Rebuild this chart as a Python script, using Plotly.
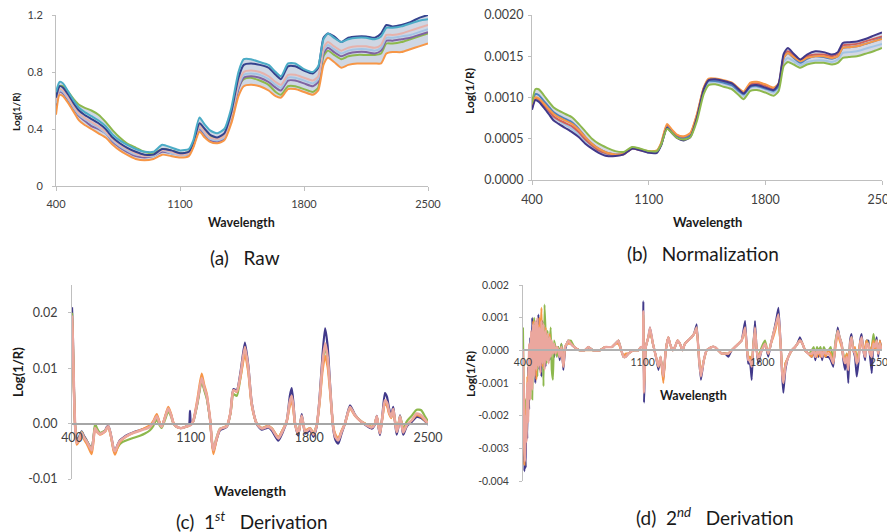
import plotly.graph_objects as go

# ---------------- data: panels (a) and (b) share one wavelength grid ----------------
WAVE_AB = [400, 420, 440, 470, 500, 530, 560, 600, 640,
           680, 720, 760, 800, 850, 900, 950, 1000, 1050,
           1100, 1150, 1175, 1210, 1240, 1270, 1310, 1350, 1390,
           1430, 1460, 1500, 1550, 1600, 1640, 1670, 1710, 1750,
           1800, 1850, 1880, 1910, 1935, 1970, 2010, 2050, 2100,
           2150, 2200, 2235, 2265, 2300, 2350, 2400, 2450, 2500]

RAW_TEAL = [0.66, 0.73, 0.72, 0.66, 0.60, 0.55, 0.52, 0.49, 0.46,
            0.42, 0.36, 0.32, 0.29, 0.26, 0.24, 0.24, 0.29, 0.27,
            0.25, 0.26, 0.32, 0.48, 0.43, 0.39, 0.37, 0.40, 0.55,
            0.80, 0.89, 0.89, 0.87, 0.85, 0.80, 0.77, 0.86, 0.86,
            0.82, 0.80, 0.84, 1.03, 1.07, 1.04, 1.01, 1.03, 1.04,
            1.04, 1.03, 1.05, 1.11, 1.11, 1.12, 1.14, 1.16, 1.17]
RAW_NAVY = [0.62, 0.70, 0.69, 0.64, 0.58, 0.53, 0.50, 0.47, 0.44,
            0.40, 0.34, 0.30, 0.27, 0.24, 0.22, 0.22, 0.26, 0.25,
            0.23, 0.24, 0.30, 0.44, 0.40, 0.36, 0.34, 0.37, 0.52,
            0.76, 0.85, 0.86, 0.85, 0.83, 0.78, 0.75, 0.84, 0.84,
            0.81, 0.79, 0.83, 1.04, 1.07, 1.05, 1.01, 1.04, 1.05,
            1.05, 1.04, 1.07, 1.13, 1.12, 1.13, 1.15, 1.18, 1.20]
RAW_GREEN = [0.60, 0.70, 0.70, 0.66, 0.61, 0.57, 0.55, 0.53, 0.50,
             0.45, 0.39, 0.34, 0.30, 0.27, 0.24, 0.23, 0.26, 0.25,
             0.23, 0.24, 0.29, 0.42, 0.38, 0.35, 0.33, 0.35, 0.48,
             0.69, 0.75, 0.76, 0.74, 0.71, 0.66, 0.64, 0.70, 0.70,
             0.68, 0.66, 0.69, 0.91, 0.95, 0.92, 0.89, 0.91, 0.92,
             0.92, 0.92, 0.93, 1.00, 1.00, 1.01, 1.03, 1.05, 1.07]
RAW_PURPLE = [0.56, 0.66, 0.65, 0.60, 0.54, 0.49, 0.46, 0.42, 0.40,
              0.37, 0.31, 0.27, 0.24, 0.21, 0.20, 0.21, 0.24, 0.23,
              0.22, 0.22, 0.28, 0.40, 0.36, 0.32, 0.31, 0.33, 0.47,
              0.68, 0.76, 0.77, 0.76, 0.73, 0.69, 0.67, 0.74, 0.74,
              0.72, 0.70, 0.73, 0.93, 0.97, 0.94, 0.91, 0.93, 0.94,
              0.94, 0.93, 0.95, 1.02, 1.02, 1.03, 1.04, 1.06, 1.08]
RAW_PINK = [0.60, 0.68, 0.67, 0.62, 0.56, 0.51, 0.48, 0.45, 0.42,
            0.38, 0.33, 0.29, 0.26, 0.23, 0.21, 0.22, 0.25, 0.24,
            0.22, 0.23, 0.29, 0.42, 0.38, 0.34, 0.33, 0.35, 0.50,
            0.72, 0.80, 0.81, 0.80, 0.77, 0.73, 0.71, 0.78, 0.78,
            0.76, 0.74, 0.77, 0.97, 1.01, 0.98, 0.95, 0.97, 0.98,
            0.98, 0.97, 0.99, 1.06, 1.06, 1.07, 1.09, 1.11, 1.13]
RAW_LBLUE = [0.58, 0.67, 0.66, 0.61, 0.55, 0.50, 0.47, 0.44, 0.41,
             0.37, 0.32, 0.28, 0.25, 0.22, 0.21, 0.21, 0.25, 0.23,
             0.22, 0.22, 0.28, 0.41, 0.37, 0.33, 0.32, 0.34, 0.49,
             0.70, 0.78, 0.79, 0.78, 0.75, 0.71, 0.69, 0.76, 0.76,
             0.74, 0.72, 0.75, 0.95, 0.99, 0.96, 0.93, 0.95, 0.96,
             0.96, 0.95, 0.97, 1.04, 1.04, 1.05, 1.06, 1.08, 1.10]
RAW_ORANGE = [0.50, 0.64, 0.63, 0.58, 0.52, 0.46, 0.43, 0.40, 0.37,
              0.34, 0.29, 0.25, 0.22, 0.19, 0.18, 0.19, 0.22, 0.21,
              0.20, 0.21, 0.27, 0.38, 0.34, 0.31, 0.30, 0.32, 0.44,
              0.63, 0.70, 0.71, 0.70, 0.67, 0.63, 0.62, 0.68, 0.68,
              0.66, 0.64, 0.67, 0.85, 0.90, 0.87, 0.83, 0.85, 0.86,
              0.86, 0.86, 0.86, 0.93, 0.94, 0.94, 0.96, 0.98, 1.00]

NORM_GREEN = [0.00093, 0.00110, 0.00110, 0.00103, 0.00095, 0.00088, 0.00084, 0.00080, 0.00076,
              0.00068, 0.00059, 0.00050, 0.00044, 0.00039, 0.00035, 0.00034, 0.00040, 0.00038,
              0.00035, 0.00035, 0.00043, 0.00062, 0.00057, 0.00051, 0.00049, 0.00052, 0.00072,
              0.00104, 0.00115, 0.00116, 0.00113, 0.00110, 0.00103, 0.00098, 0.00108, 0.00109,
              0.00106, 0.00102, 0.00108, 0.00138, 0.00143, 0.00140, 0.00136, 0.00140, 0.00142,
              0.00142, 0.00140, 0.00142, 0.00148, 0.00149, 0.00150, 0.00153, 0.00156, 0.00160]
NORM_PURPLE = [0.00085, 0.00097, 0.00095, 0.00088, 0.00080, 0.00072, 0.00068, 0.00063, 0.00058,
               0.00052, 0.00044, 0.00038, 0.00033, 0.00029, 0.00029, 0.00031, 0.00038, 0.00036,
               0.00033, 0.00033, 0.00042, 0.00063, 0.00057, 0.00051, 0.00048, 0.00052, 0.00076,
               0.00110, 0.00121, 0.00122, 0.00120, 0.00117, 0.00110, 0.00105, 0.00114, 0.00115,
               0.00112, 0.00109, 0.00117, 0.00153, 0.00160, 0.00153, 0.00146, 0.00152, 0.00156,
               0.00155, 0.00152, 0.00155, 0.00166, 0.00167, 0.00168, 0.00171, 0.00175, 0.00179]
NORM_LBLUE = [0.00088, 0.00098, 0.00097, 0.00090, 0.00083, 0.00076, 0.00072, 0.00067, 0.00062,
              0.00055, 0.00047, 0.00040, 0.00035, 0.00031, 0.00030, 0.00031, 0.00038, 0.00036,
              0.00034, 0.00034, 0.00043, 0.00065, 0.00059, 0.00053, 0.00051, 0.00055, 0.00077,
              0.00108, 0.00118, 0.00119, 0.00117, 0.00114, 0.00107, 0.00102, 0.00112, 0.00113,
              0.00110, 0.00106, 0.00112, 0.00143, 0.00148, 0.00144, 0.00139, 0.00143, 0.00145,
              0.00145, 0.00143, 0.00146, 0.00154, 0.00155, 0.00156, 0.00159, 0.00162, 0.00165]
NORM_RED = [0.00087, 0.00099, 0.00098, 0.00091, 0.00084, 0.00077, 0.00073, 0.00069, 0.00065,
            0.00058, 0.00049, 0.00042, 0.00036, 0.00032, 0.00030, 0.00031, 0.00038, 0.00036,
            0.00034, 0.00035, 0.00044, 0.00066, 0.00060, 0.00054, 0.00052, 0.00056, 0.00079,
            0.00111, 0.00122, 0.00122, 0.00120, 0.00117, 0.00110, 0.00105, 0.00116, 0.00117,
            0.00114, 0.00110, 0.00116, 0.00150, 0.00156, 0.00151, 0.00145, 0.00150, 0.00152,
            0.00152, 0.00150, 0.00153, 0.00163, 0.00164, 0.00165, 0.00168, 0.00171, 0.00174]
NORM_BLUE = [0.00092, 0.00104, 0.00103, 0.00096, 0.00089, 0.00082, 0.00078, 0.00074, 0.00070,
             0.00062, 0.00052, 0.00044, 0.00038, 0.00033, 0.00031, 0.00032, 0.00039, 0.00037,
             0.00034, 0.00034, 0.00043, 0.00064, 0.00058, 0.00052, 0.00050, 0.00054, 0.00077,
             0.00110, 0.00120, 0.00120, 0.00118, 0.00115, 0.00108, 0.00104, 0.00113, 0.00114,
             0.00111, 0.00108, 0.00114, 0.00148, 0.00154, 0.00148, 0.00142, 0.00147, 0.00150,
             0.00149, 0.00147, 0.00150, 0.00160, 0.00161, 0.00162, 0.00165, 0.00168, 0.00172]
NORM_ORANGE = [0.00090, 0.00100, 0.00099, 0.00093, 0.00086, 0.00080, 0.00076, 0.00072, 0.00068,
               0.00061, 0.00052, 0.00044, 0.00038, 0.00033, 0.00031, 0.00032, 0.00039, 0.00037,
               0.00035, 0.00036, 0.00045, 0.00068, 0.00061, 0.00055, 0.00053, 0.00057, 0.00080,
               0.00112, 0.00123, 0.00123, 0.00121, 0.00118, 0.00111, 0.00107, 0.00118, 0.00119,
               0.00116, 0.00112, 0.00117, 0.00148, 0.00154, 0.00149, 0.00144, 0.00148, 0.00150,
               0.00150, 0.00148, 0.00150, 0.00160, 0.00161, 0.00162, 0.00165, 0.00168, 0.00171]

# ---------------- data: panel (c) first derivative ----------------
WAVE_C = [400, 405, 410, 418, 428, 440, 457, 470, 486, 500,
          516, 526, 536, 550, 565, 580, 595, 605, 614, 625,
          634, 645, 654, 668, 683, 700, 723, 760, 801, 830,
          860, 880, 900, 915, 929, 950, 968, 985, 998, 1015,
          1037, 1060, 1077, 1090, 1096, 1102, 1116, 1140, 1165, 1180,
          1195, 1205, 1214, 1225, 1234, 1250, 1273, 1313, 1335, 1352,
          1372, 1395, 1420, 1440, 1460, 1490, 1519, 1540, 1558, 1580,
          1617, 1640, 1667, 1685, 1696, 1706, 1716, 1735, 1755, 1775,
          1790, 1804, 1815, 1824, 1843, 1860, 1878, 1893, 1908, 1922,
          1941, 1955, 1971, 1990, 2010, 2040, 2069, 2100, 2128, 2168,
          2185, 2198, 2208, 2217, 2230, 2246, 2258, 2270, 2283, 2295,
          2305, 2315, 2325, 2335, 2345, 2354, 2375, 2404, 2433, 2460,
          2480, 2500]

D1_NAVY = [0.0210, 0.0160, 0.0085, 0.0000, -0.0030, -0.0025, -0.0014, -0.0022, -0.0030, -0.0038,
           -0.0045, -0.0028, -0.0006, -0.0013, -0.0018, -0.0016, -0.0013, -0.0006, -0.0004, -0.0014,
           -0.0027, -0.0044, -0.0049, -0.0039, -0.0030, -0.0026, -0.0021, -0.0016, -0.0012, -0.0009,
           -0.0005, 0.0003, 0.0014, 0.0003, -0.0005, 0.0012, 0.0027, 0.0015, 0.0001, -0.0005,
           -0.0008, -0.0007, -0.0005, -0.0003, 0.0023, -0.0002, 0.0005, 0.0038, 0.0080, 0.0063,
           0.0048, 0.0028, 0.0008, -0.0032, -0.0050, -0.0032, -0.0012, -0.0006, 0.0020, 0.0062,
           0.0060, 0.0095, 0.0146, 0.0105, 0.0038, -0.0001, -0.0011, -0.0009, -0.0007, -0.0013,
           -0.0031, -0.0018, 0.0005, 0.0050, 0.0064, 0.0038, 0.0000, -0.0022, 0.0017, -0.0018,
           -0.0015, -0.0012, -0.0018, -0.0024, -0.0006, 0.0045, 0.0125, 0.0172, 0.0140, 0.0072,
           -0.0010, -0.0030, -0.0036, -0.0018, 0.0000, 0.0033, 0.0016, 0.0005, -0.0002, -0.0009,
           -0.0003, 0.0014, -0.0007, -0.0021, 0.0012, 0.0055, 0.0048, 0.0028, 0.0015, 0.0030,
           0.0004, -0.0020, -0.0007, 0.0015, -0.0003, -0.0020, -0.0005, 0.0003, 0.0012, 0.0010,
           0.0005, -0.0002]
D1_GREEN = [0.0200, 0.0152, 0.0080, 0.0000, -0.0032, -0.0028, -0.0015, -0.0024, -0.0031, -0.0039,
            -0.0046, -0.0027, -0.0001, -0.0010, -0.0017, -0.0015, -0.0013, -0.0008, -0.0006, -0.0016,
            -0.0030, -0.0046, -0.0052, -0.0044, -0.0037, -0.0033, -0.0030, -0.0026, -0.0022, -0.0018,
            -0.0012, -0.0004, 0.0008, -0.0002, -0.0008, 0.0008, 0.0022, 0.0012, 0.0000, -0.0006,
            -0.0008, -0.0007, -0.0005, -0.0004, -0.0003, -0.0002, 0.0004, 0.0036, 0.0076, 0.0060,
            0.0045, 0.0027, 0.0008, -0.0030, -0.0046, -0.0028, -0.0009, -0.0005, 0.0018, 0.0053,
            0.0050, 0.0085, 0.0133, 0.0097, 0.0035, 0.0000, -0.0008, -0.0006, -0.0004, -0.0009,
            -0.0025, -0.0013, 0.0005, 0.0038, 0.0047, 0.0028, 0.0000, -0.0016, 0.0012, -0.0013,
            -0.0011, -0.0008, -0.0013, -0.0018, -0.0003, 0.0038, 0.0105, 0.0138, 0.0115, 0.0063,
            -0.0006, -0.0023, -0.0028, -0.0014, 0.0000, 0.0029, 0.0015, 0.0006, 0.0000, -0.0006,
            -0.0001, 0.0012, -0.0004, -0.0016, 0.0009, 0.0038, 0.0035, 0.0020, 0.0011, 0.0024,
            0.0006, -0.0012, -0.0002, 0.0013, 0.0002, -0.0010, 0.0004, 0.0014, 0.0025, 0.0024,
            0.0014, 0.0004]
D1_ORANGE = [0.0190, 0.0145, 0.0075, -0.0005, -0.0038, -0.0033, -0.0018, -0.0028, -0.0036, -0.0045,
             -0.0055, -0.0035, -0.0010, -0.0016, -0.0020, -0.0018, -0.0015, -0.0009, -0.0006, -0.0017,
             -0.0030, -0.0049, -0.0056, -0.0044, -0.0033, -0.0028, -0.0023, -0.0017, -0.0012, -0.0008,
             -0.0003, 0.0005, 0.0017, 0.0004, -0.0005, 0.0014, 0.0030, 0.0017, 0.0002, -0.0005,
             -0.0008, -0.0007, -0.0005, -0.0004, -0.0003, -0.0002, 0.0006, 0.0045, 0.0090, 0.0070,
             0.0054, 0.0032, 0.0010, -0.0033, -0.0055, -0.0033, -0.0010, -0.0004, 0.0020, 0.0060,
             0.0057, 0.0085, 0.0125, 0.0092, 0.0033, 0.0000, -0.0008, -0.0006, -0.0004, -0.0009,
             -0.0024, -0.0013, 0.0004, 0.0032, 0.0040, 0.0024, -0.0002, -0.0018, 0.0010, -0.0013,
             -0.0010, -0.0008, -0.0013, -0.0018, -0.0004, 0.0035, 0.0095, 0.0122, 0.0102, 0.0058,
             -0.0005, -0.0020, -0.0026, -0.0013, 0.0000, 0.0027, 0.0014, 0.0005, 0.0000, -0.0006,
             -0.0001, 0.0012, -0.0004, -0.0015, 0.0008, 0.0035, 0.0032, 0.0018, 0.0010, 0.0022,
             0.0005, -0.0012, -0.0003, 0.0011, -0.0001, -0.0013, -0.0002, 0.0006, 0.0015, 0.0012,
             0.0006, 0.0000]
D1_PINK = [0.0195, 0.0150, 0.0080, 0.0000, -0.0035, -0.0030, -0.0016, -0.0025, -0.0032, -0.0040,
           -0.0048, -0.0030, -0.0008, -0.0015, -0.0019, -0.0017, -0.0014, -0.0008, -0.0005, -0.0015,
           -0.0028, -0.0045, -0.0050, -0.0040, -0.0031, -0.0027, -0.0022, -0.0017, -0.0013, -0.0010,
           -0.0006, 0.0002, 0.0013, 0.0002, -0.0006, 0.0012, 0.0027, 0.0015, 0.0001, -0.0005,
           -0.0008, -0.0007, -0.0005, -0.0004, -0.0003, -0.0002, 0.0005, 0.0040, 0.0082, 0.0065,
           0.0050, 0.0030, 0.0010, -0.0030, -0.0048, -0.0030, -0.0010, -0.0005, 0.0020, 0.0060,
           0.0058, 0.0090, 0.0138, 0.0100, 0.0036, 0.0000, -0.0009, -0.0007, -0.0005, -0.0010,
           -0.0027, -0.0015, 0.0005, 0.0040, 0.0050, 0.0030, 0.0000, -0.0018, 0.0014, -0.0015,
           -0.0012, -0.0009, -0.0015, -0.0020, -0.0004, 0.0040, 0.0110, 0.0145, 0.0120, 0.0066,
           -0.0007, -0.0025, -0.0030, -0.0015, 0.0000, 0.0030, 0.0015, 0.0005, -0.0001, -0.0007,
           -0.0002, 0.0013, -0.0005, -0.0018, 0.0010, 0.0042, 0.0038, 0.0022, 0.0012, 0.0026,
           0.0005, -0.0015, -0.0005, 0.0013, -0.0002, -0.0016, -0.0003, 0.0006, 0.0018, 0.0015,
           0.0008, 0.0000]

# ---------------- data: panel (d) second derivative ----------------
WAVE_D = [400, 404, 408, 412, 416, 420, 425, 430, 436, 442,
          448, 454, 460, 466, 472, 478, 484, 490, 496, 502,
          508, 514, 520, 526, 532, 538, 544, 550, 556, 562,
          568, 575, 582, 590, 598, 606, 615, 625, 636, 646,
          656, 665, 680, 700, 730, 760, 782, 810, 851, 880,
          919, 940, 958, 975, 988, 1000, 1017, 1045, 1075, 1090,
          1100, 1104, 1108, 1118, 1133, 1143, 1160, 1178, 1192, 1205,
          1221, 1235, 1250, 1260, 1275, 1289, 1304, 1318, 1333, 1347,
          1365, 1386, 1400, 1416, 1430, 1441, 1458, 1474, 1503, 1523,
          1542, 1562, 1582, 1601, 1620, 1640, 1660, 1679, 1699, 1709,
          1718, 1728, 1738, 1747, 1757, 1767, 1777, 1796, 1816, 1835,
          1850, 1864, 1880, 1894, 1902, 1909, 1916, 1923, 1935, 1952,
          1972, 1991, 2005, 2020, 2035, 2050, 2070, 2089, 2100, 2110,
          2120, 2128, 2140, 2150, 2160, 2170, 2186, 2200, 2215, 2228,
          2241, 2252, 2264, 2274, 2284, 2294, 2303, 2313, 2322, 2332,
          2342, 2352, 2362, 2372, 2381, 2391, 2401, 2410, 2420, 2430,
          2440, 2450, 2459, 2469, 2478, 2488, 2498]

D2_NAVY = [-0.0005, -0.0025, -0.0037, -0.0030, -0.0036, -0.0015, -0.0027, -0.0005, -0.0018, 0.0004,
           -0.0010, 0.0010, -0.0006, 0.0008, -0.0010, 0.0009, -0.0004, 0.0011, -0.0006, 0.0006,
           -0.0008, 0.0009, -0.0003, 0.0007, -0.0005, 0.0005, -0.0002, 0.0004, -0.0003, 0.0003,
           -0.0001, 0.0002, -0.0002, 0.0001, 0.0000, 0.0001, -0.0003, 0.0002, -0.0006, 0.0000,
           0.0002, 0.0003, 0.0002, 0.0001, 0.0000, 0.0000, 0.0001, 0.0000, 0.0000, 0.0001,
           0.0001, 0.0002, 0.0003, 0.0000, -0.0002, -0.0002, -0.0001, 0.0000, 0.0000, 0.0001,
           0.0001, 0.0015, -0.0016, 0.0001, 0.0004, 0.0007, 0.0002, -0.0002, -0.0006, -0.0002,
           -0.0009, 0.0000, 0.0004, 0.0002, 0.0000, 0.0001, 0.0003, 0.0002, 0.0000, 0.0002,
           0.0003, 0.0004, 0.0005, 0.0008, -0.0003, -0.0009, -0.0003, 0.0000, 0.0001, 0.0001,
           0.0000, -0.0001, -0.0001, -0.0002, 0.0000, 0.0001, 0.0002, 0.0003, 0.0009, 0.0001,
           -0.0004, -0.0004, -0.0009, 0.0001, 0.0009, 0.0000, -0.0004, 0.0000, 0.0002, -0.0002,
           0.0002, 0.0005, 0.0009, 0.0013, 0.0007, 0.0000, -0.0008, -0.0013, -0.0006, -0.0002,
           0.0000, 0.0001, 0.0002, 0.0004, 0.0002, 0.0000, -0.0001, -0.0002, 0.0000, -0.0003,
           0.0000, -0.0002, 0.0000, -0.0003, 0.0000, -0.0002, -0.0002, -0.0003, -0.0005, 0.0002,
           0.0007, 0.0004, 0.0002, -0.0003, -0.0006, -0.0002, -0.0010, 0.0003, 0.0005, 0.0000,
           -0.0002, -0.0008, -0.0004, 0.0003, 0.0005, 0.0000, -0.0003, 0.0003, 0.0003, -0.0002,
           -0.0007, 0.0002, 0.0001, 0.0004, -0.0002, 0.0003, 0.0000]
D2_GREEN = [0.0007, -0.0010, -0.0030, -0.0022, -0.0015, -0.0025, -0.0012, -0.0017, -0.0003, -0.0010,
            0.0003, -0.0015, 0.0006, 0.0010, -0.0004, 0.0008, -0.0008, 0.0004, -0.0004, 0.0009,
            -0.0002, 0.0005, -0.0011, 0.0014, 0.0006, -0.0004, 0.0006, -0.0002, 0.0003, 0.0007,
            -0.0006, -0.0009, 0.0003, 0.0001, -0.0002, 0.0001, -0.0001, 0.0002, -0.0004, 0.0001,
            0.0002, 0.0003, 0.0003, 0.0001, 0.0000, 0.0000, 0.0001, 0.0000, 0.0000, 0.0001,
            0.0001, 0.0002, 0.0003, 0.0000, -0.0002, -0.0002, -0.0001, 0.0000, 0.0000, 0.0001,
            0.0001, 0.0011, -0.0012, 0.0001, 0.0004, 0.0006, 0.0002, -0.0002, -0.0005, -0.0002,
            -0.0008, 0.0000, 0.0004, 0.0002, 0.0000, 0.0001, 0.0003, 0.0002, 0.0000, 0.0002,
            0.0003, 0.0004, 0.0005, 0.0007, -0.0003, -0.0007, -0.0003, 0.0000, 0.0001, 0.0001,
            0.0000, -0.0001, -0.0001, -0.0001, 0.0000, 0.0001, 0.0002, 0.0003, 0.0006, 0.0001,
            -0.0002, -0.0002, -0.0004, 0.0002, 0.0006, 0.0000, -0.0002, 0.0001, 0.0003, -0.0001,
            0.0002, 0.0005, 0.0008, 0.0010, 0.0005, 0.0000, -0.0006, -0.0009, -0.0004, -0.0002,
            0.0000, 0.0001, 0.0002, 0.0003, 0.0002, 0.0000, -0.0001, 0.0000, 0.0001, -0.0001,
            0.0001, 0.0000, 0.0001, -0.0001, 0.0001, 0.0000, 0.0000, 0.0001, -0.0003, 0.0003,
            0.0006, 0.0004, 0.0002, -0.0001, -0.0003, -0.0001, -0.0004, 0.0002, 0.0004, 0.0001,
            0.0000, -0.0002, -0.0001, 0.0002, 0.0003, 0.0001, 0.0000, 0.0003, 0.0002, 0.0000,
            0.0001, 0.0005, 0.0002, 0.0003, 0.0000, 0.0002, 0.0001]
D2_ORANGE = [-0.0003, -0.0020, -0.0035, -0.0026, -0.0018, -0.0022, -0.0008, -0.0014, 0.0000, -0.0008,
             0.0005, -0.0006, 0.0009, -0.0006, 0.0004, -0.0009, 0.0008, -0.0003, 0.0010, 0.0003,
             0.0013, -0.0005, 0.0006, -0.0004, 0.0007, -0.0002, 0.0004, -0.0003, 0.0005, -0.0001,
             0.0002, 0.0000, 0.0001, -0.0001, 0.0001, 0.0000, -0.0002, 0.0001, -0.0005, 0.0001,
             0.0002, 0.0002, 0.0002, 0.0001, 0.0000, 0.0000, 0.0000, 0.0000, 0.0000, 0.0001,
             0.0001, 0.0002, 0.0002, 0.0000, -0.0002, -0.0001, -0.0001, 0.0000, 0.0000, 0.0001,
             0.0001, 0.0010, -0.0011, 0.0001, 0.0004, 0.0006, 0.0002, -0.0002, -0.0005, -0.0002,
             -0.0010, 0.0000, 0.0004, 0.0002, 0.0000, 0.0001, 0.0003, 0.0002, 0.0000, 0.0002,
             0.0003, 0.0004, 0.0005, 0.0006, -0.0002, -0.0007, -0.0003, 0.0000, 0.0001, 0.0001,
             0.0000, -0.0001, -0.0001, -0.0001, 0.0000, 0.0001, 0.0002, 0.0003, 0.0006, 0.0001,
             -0.0003, -0.0002, -0.0004, 0.0001, 0.0006, 0.0000, -0.0002, 0.0000, 0.0002, -0.0001,
             0.0002, 0.0004, 0.0007, 0.0010, 0.0005, 0.0000, -0.0006, -0.0009, -0.0004, -0.0002,
             0.0000, 0.0001, 0.0002, 0.0003, 0.0002, 0.0000, -0.0001, -0.0002, 0.0000, -0.0001,
             -0.0002, 0.0000, -0.0002, 0.0000, -0.0001, -0.0002, 0.0000, -0.0001, -0.0004, 0.0001,
             0.0005, 0.0003, 0.0001, -0.0002, -0.0003, -0.0001, -0.0005, 0.0001, 0.0003, 0.0000,
             0.0001, -0.0003, -0.0002, 0.0003, 0.0002, 0.0000, 0.0001, 0.0003, 0.0001, -0.0001,
             0.0001, 0.0003, 0.0000, 0.0002, -0.0001, 0.0003, 0.0000]
D2_PINK = [0.0000, -0.0012, -0.0030, -0.0034, -0.0020, -0.0028, -0.0010, -0.0022, 0.0002, -0.0015,
           0.0006, -0.0012, 0.0008, -0.0008, 0.0009, -0.0006, 0.0010, -0.0005, 0.0007, -0.0007,
           0.0009, -0.0004, 0.0008, -0.0006, 0.0006, -0.0003, 0.0005, -0.0004, 0.0004, -0.0002,
           0.0003, -0.0001, 0.0002, -0.0001, 0.0001, 0.0000, -0.0002, 0.0001, -0.0005, 0.0001,
           0.0002, 0.0003, 0.0002, 0.0001, 0.0000, 0.0000, 0.0001, 0.0000, 0.0000, 0.0001,
           0.0001, 0.0002, 0.0003, 0.0000, -0.0002, -0.0002, -0.0001, 0.0000, 0.0000, 0.0001,
           0.0001, 0.0012, -0.0013, 0.0001, 0.0004, 0.0007, 0.0002, -0.0002, -0.0005, -0.0002,
           -0.0008, 0.0000, 0.0004, 0.0002, 0.0000, 0.0001, 0.0003, 0.0002, 0.0000, 0.0002,
           0.0003, 0.0004, 0.0005, 0.0007, -0.0003, -0.0008, -0.0003, 0.0000, 0.0001, 0.0001,
           0.0000, -0.0001, -0.0001, -0.0001, 0.0000, 0.0001, 0.0002, 0.0003, 0.0007, 0.0001,
           -0.0003, -0.0003, -0.0005, 0.0001, 0.0007, 0.0000, -0.0003, 0.0000, 0.0002, -0.0001,
           0.0002, 0.0005, 0.0008, 0.0011, 0.0006, 0.0000, -0.0007, -0.0010, -0.0005, -0.0002,
           0.0000, 0.0001, 0.0002, 0.0003, 0.0002, 0.0000, -0.0001, -0.0001, 0.0000, -0.0002,
           0.0000, -0.0001, 0.0000, -0.0002, 0.0000, -0.0001, -0.0001, -0.0002, -0.0004, 0.0002,
           0.0006, 0.0004, 0.0002, -0.0002, -0.0004, -0.0002, -0.0006, 0.0002, 0.0004, 0.0000,
           -0.0001, -0.0004, -0.0003, 0.0002, 0.0004, 0.0000, -0.0002, 0.0002, 0.0002, -0.0001,
           -0.0002, 0.0002, 0.0001, 0.0003, -0.0001, 0.0002, 0.0000]

# ---------------- tick labels ----------------
X_TICKS = [400, 1100, 1800, 2500]
X_TICK_TEXT = ["400", "1100", "1800", "2500"]
A_TICKS = [0, 0.4, 0.8, 1.2]
A_TICK_TEXT = ["0", "0.4", "0.8", "1.2"]
B_TICKS = [0, 0.0005, 0.001, 0.0015, 0.002]
B_TICK_TEXT = ["0.0000", "0.0005", "0.0010", "0.0015", "0.0020"]
C_TICKS = [-0.01, 0, 0.01, 0.02]
C_TICK_TEXT = ["-0.01", "0.00", "0.01", "0.02"]
D_TICKS = [-0.004, -0.003, -0.002, -0.001, 0, 0.001, 0.002]
D_TICK_TEXT = ["-0.004", "-0.003", "-0.002", "-0.001", "0.000", "0.001", "0.002"]

# ---------------- styling ----------------
FONT = "Lato"
TICKC = "#404040"
AXC = "#BFBFBF"
C_TEAL = "#4BACC6"
C_NAVY = "#34438E"
C_DNAVY = "#41398A"
C_GREEN = "#8DB84D"
C_PURPLE = "#8064A2"
C_PINK = "#E6B2AC"
C_LBLUE = "#A4C4E4"
C_ORANGE = "#F79646"
C_RED = "#D0605A"
C_BLUE = "#4F81BD"
C_SALMON = "#EBA79E"

# The page body has an 8px default margin, so the figure is drawn 8px in from
# the window's top-left corner; size it to end exactly at the window edges.
OFF = 8
FIG_W = 895 - OFF
FIG_H = 532 - OFF

fig = go.Figure()


def band(xa, ya, x, series, fillcolor):
    for i, s in enumerate(series):
        fig.add_trace(go.Scatter(x=x, y=s, xaxis=xa, yaxis=ya, mode="lines",
                                 line=dict(width=0, color=fillcolor),
                                 fill="none" if i == 0 else "tonexty",
                                 fillcolor=fillcolor, hoverinfo="skip",
                                 showlegend=False))


def lines(xa, ya, x, series, width, smooth=0.6):
    for s, c in series:
        fig.add_trace(go.Scatter(x=x, y=s, xaxis=xa, yaxis=ya, mode="lines",
                                 line=dict(width=width, color=c, shape="spline",
                                           smoothing=smooth),
                                 hoverinfo="skip", showlegend=False))


# (a) raw
band("x", "y", WAVE_AB, [RAW_ORANGE, RAW_PURPLE, RAW_LBLUE, RAW_PINK, RAW_GREEN,
                         RAW_NAVY, RAW_TEAL], "rgb(207,215,228)")
lines("x", "y", WAVE_AB, [(RAW_GREEN, C_GREEN), (RAW_PURPLE, C_PURPLE),
                          (RAW_LBLUE, C_LBLUE), (RAW_PINK, C_PINK),
                          (RAW_NAVY, C_NAVY), (RAW_TEAL, C_TEAL),
                          (RAW_ORANGE, C_ORANGE)], 2)

# (b) normalization
band("x2", "y2", WAVE_AB, [NORM_GREEN, NORM_PURPLE, NORM_LBLUE, NORM_RED, NORM_BLUE,
                           NORM_ORANGE], "rgb(212,216,228)")
lines("x2", "y2", WAVE_AB, [(NORM_LBLUE, C_LBLUE), (NORM_RED, C_RED),
                            (NORM_BLUE, C_BLUE), (NORM_ORANGE, C_ORANGE),
                            (NORM_PURPLE, C_DNAVY), (NORM_GREEN, C_GREEN)], 2)

# (c) first derivative
lines("x3", "y3", WAVE_C, [(D1_NAVY, C_DNAVY), (D1_GREEN, C_GREEN),
                           (D1_ORANGE, C_ORANGE)], 2.2)
lines("x3", "y3", WAVE_C, [(D1_PINK, C_SALMON)], 2.6)

# (d) second derivative
lines("x4", "y4", WAVE_D, [(D2_NAVY, C_DNAVY), (D2_GREEN, C_GREEN),
                           (D2_ORANGE, C_ORANGE)], 2, 0.3)
lines("x4", "y4", WAVE_D, [(D2_PINK, C_SALMON)], 2.4, 0.3)


def px_x(p):
    return (p - OFF) / FIG_W


def px_y(p):
    return 1 - (p - OFF) / FIG_H


def xax(dom, fs, anchor, standoff, position=None, ticks="outside"):
    d = dict(domain=dom, range=[400, 2500], tickvals=X_TICKS, ticktext=X_TICK_TEXT,
             showline=True, linecolor=AXC, linewidth=1, ticks=ticks, ticklen=4,
             tickcolor=AXC, showgrid=False, zeroline=False, automargin=False,
             ticklabeloverflow="allow",
             tickfont=dict(family=FONT, size=fs, color=TICKC),
             ticklabelstandoff=standoff, fixedrange=True)
    if position is None:
        d["anchor"] = anchor
    else:
        d["anchor"] = "free"
        d["position"] = position
    return d


def yax(dom, rng, tv, tt, fs, anchor, standoff):
    return dict(domain=dom, range=rng, tickvals=tv, ticktext=tt,
                showline=True, linecolor=AXC, linewidth=1, ticks="outside",
                ticklen=3, tickcolor=AXC, showgrid=False, zeroline=False,
                automargin=False, ticklabeloverflow="allow",
                tickfont=dict(family=FONT, size=fs, color=TICKC),
                ticklabelstandoff=standoff, anchor=anchor, fixedrange=True)


annotations = []


def ann(text, x, y, size, bold=False, angle=0, color="#1A1A1A"):
    t = "<b>" + text + "</b>" if bold else text
    annotations.append(dict(text=t, x=px_x(x), y=px_y(y), xref="paper", yref="paper",
                            xanchor="center", yanchor="middle", showarrow=False,
                            textangle=angle,
                            font=dict(family=FONT, size=size, color=color)))


NB = "\u00a0"
ann("Log(1/R)", 16, 112, 10, bold=True, angle=-90)
ann("Log(1/R)", 470, 91, 12, bold=True, angle=-90)
ann("Log(1/R)", 18, 372, 13, bold=True, angle=-90)
ann("Log(1/R)", 470, 374, 12, bold=True, angle=-90)
ann("Wavelength", 242, 223, 12.5, bold=True)
ann("Wavelength", 707, 222, 13, bold=True)
ann("Wavelength", 250, 491, 13.5, bold=True)
ann("Wavelength", 693, 395, 12.5, bold=True)
ann("(a)" + NB * 3 + "Raw", 245, 257, 19)
ann("(b)" + NB * 3 + "Normalization", 703, 254, 19)
ann("(c)" + NB * 2 + "1<sup><i>st</i></sup>" + NB * 3 + "Derivation", 252, 520, 19)
ann("(d)" + NB * 2 + "2<sup><i>nd</i></sup>" + NB * 3 + "Derivation", 715, 516, 19)

fig.update_layout(
    template="none",
    width=FIG_W, height=FIG_H,
    margin=dict(l=0, r=0, t=0, b=0, autoexpand=False),
    paper_bgcolor="white", plot_bgcolor="white",
    showlegend=False,
    font=dict(family=FONT),
    xaxis=xax([px_x(56), px_x(428)], 11, "y", 4),
    yaxis=yax([px_y(186), px_y(15)], [0, 1.2], A_TICKS, A_TICK_TEXT, 11, "x", 7),
    xaxis2=xax([px_x(532), px_x(882)], 12.5, "y2", 4),
    yaxis2=yax([px_y(180), px_y(15)], [0, 0.002], B_TICKS, B_TICK_TEXT, 12.5, "x2", 2),
    xaxis3=xax([px_x(72), px_x(428)], 12.5, "y3", 2, position=px_y(423.6), ticks=""),
    yaxis3=yax([px_y(479), px_y(285)], [-0.01, 0.025], C_TICKS, C_TICK_TEXT, 12.5, "x3", 8),
    xaxis4=xax([px_x(523), px_x(882)], 10.5, "y4", 2, position=px_y(350.3), ticks=""),
    yaxis4=yax([px_y(481), px_y(285)], [-0.004, 0.002], D_TICKS, D_TICK_TEXT, 10.5, "x4", 8),
    annotations=annotations,
)
fig.layout.xaxis3.linecolor = "#A6A6A6"
fig.layout.xaxis3.linewidth = 2
fig.layout.xaxis4.linecolor = "#B0B0B0"
fig.layout.xaxis4.linewidth = 1.5

fig.write_html("out.html")
